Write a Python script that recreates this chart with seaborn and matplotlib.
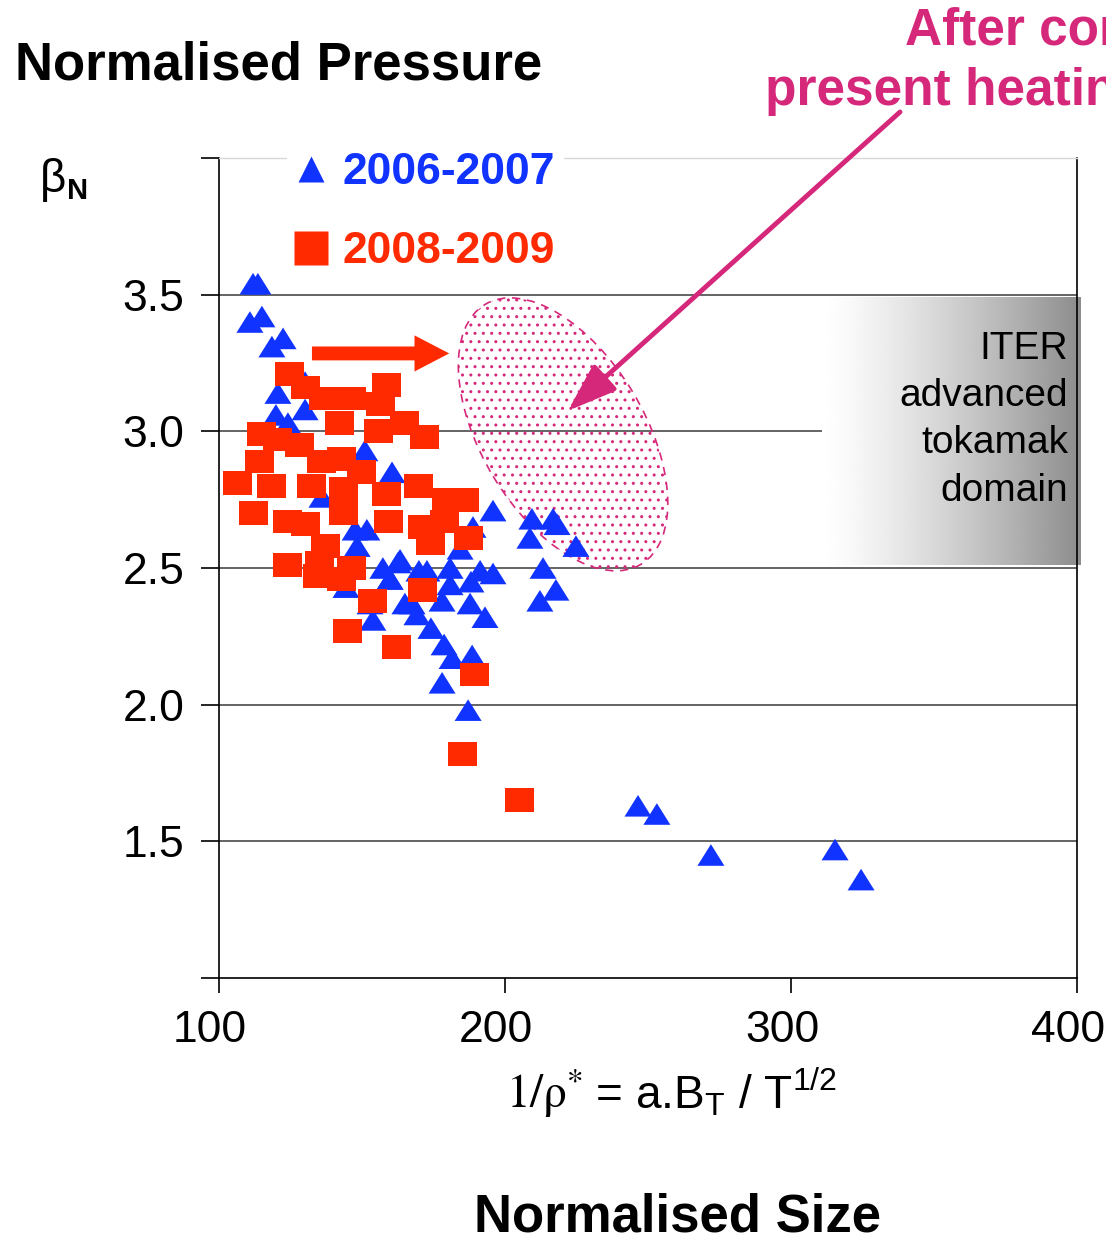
import numpy as np
import pandas as pd
import matplotlib
matplotlib.use("Agg")
import matplotlib.pyplot as plt
import matplotlib.transforms as mtransforms
from matplotlib.patches import Ellipse
from matplotlib.lines import Line2D
import seaborn as sns

sns.set_style("ticks")
plt.rcParams['font.family'] = ['Liberation Sans', 'DejaVu Sans']
plt.rcParams['mathtext.fontset'] = 'custom'
plt.rcParams['mathtext.rm'] = 'Liberation Sans'
plt.rcParams['mathtext.it'] = 'Liberation Sans:italic'
plt.rcParams['mathtext.bf'] = 'Liberation Sans:bold'
for k in ['text.color', 'axes.labelcolor', 'xtick.color', 'ytick.color',
          'xtick.labelcolor', 'ytick.labelcolor']:
    plt.rcParams[k] = 'black'

# ---------------- data ----------------
periods = ['2006-2007', '2008-2009']

x_0607 = [111.9, 113.6, 110.8, 115.0, 118.5, 122.4, 120.6, 130.1, 130.1, 119.9,
          124.1, 151.0, 160.5, 136.0, 147.6, 148.3, 151.7, 157.3, 163.3, 144.4,
          159.8, 152.8, 153.8, 165.0, 195.8, 209.4, 216.8, 218.2, 208.7, 224.8,
          188.8, 184.3, 213.3, 217.8, 212.2, 162.6, 169.9, 172.7, 180.8, 188.1,
          195.8, 191.3, 159.8, 180.8, 178.0, 187.8, 167.5, 169.2, 193.0, 174.1,
          178.7, 181.5, 188.5, 178.0, 187.1, 246.5, 253.1, 272.0, 315.4, 324.5]
y_0607 = [3.54, 3.54, 3.40, 3.42, 3.31, 3.34, 3.14, 3.18, 3.08, 3.06,
          3.03, 2.93, 2.85, 2.76, 2.64, 2.58, 2.64, 2.50, 2.53, 2.43,
          2.46, 2.37, 2.31, 2.37, 2.71, 2.68, 2.68, 2.66, 2.61, 2.58,
          2.65, 2.57, 2.50, 2.42, 2.38, 2.52, 2.49, 2.49, 2.50, 2.45,
          2.48, 2.49, 2.46, 2.44, 2.38, 2.37, 2.37, 2.33, 2.32, 2.28,
          2.22, 2.17, 2.18, 2.08, 1.98, 1.63, 1.60, 1.45, 1.47, 1.36]

x_0809 = [124.8, 130.1, 136.7, 146.5, 158.4, 156.3, 142.0, 155.6, 164.7, 171.7,
          115.0, 120.3, 114.0, 106.6, 118.5, 128.3, 143.0, 149.7, 132.5, 143.7,
          158.7, 169.9, 179.4, 185.7, 112.2, 123.8, 130.4, 137.4, 143.7, 159.4,
          173.8, 171.0, 178.7, 187.1, 123.8, 134.3, 135.0, 143.0, 146.5, 153.8,
          171.0, 144.8, 161.9, 189.2, 185.3, 205.2, 136.0]
y_0809 = [3.21, 3.16, 3.12, 3.12, 3.17, 3.10, 3.03, 3.00, 3.03, 2.98,
          2.99, 2.97, 2.89, 2.81, 2.80, 2.95, 2.90, 2.85, 2.80, 2.79,
          2.77, 2.80, 2.75, 2.75, 2.70, 2.67, 2.66, 2.58, 2.70, 2.67,
          2.59, 2.65, 2.67, 2.61, 2.51, 2.47, 2.52, 2.46, 2.50, 2.38,
          2.42, 2.27, 2.21, 2.11, 1.82, 1.65, 2.89]

x_ticks = [100, 200, 300, 400]
y_ticks = [1.0, 1.5, 2.0, 2.5, 3.0, 3.5, 4.0]
y_ticklabels = ['', '1.5', '2.0', '2.5', '3.0', '3.5', '']
grid_levels = [1.5, 2.0, 2.5, 3.0, 3.5]

BLUE = '#1133FF'
RED = '#FF2A00'
PINK = '#D6287A'

# ---------------- figure ----------------
W, H = 1106, 1242
fig = plt.figure(figsize=(W / 100, H / 100), dpi=100)
AX_L, AX_R, AX_T, AX_B = 219, 1077, 158, 978
ax = fig.add_axes([AX_L / W, 1 - AX_B / H, (AX_R - AX_L) / W, (AX_B - AX_T) / H])

def fpx(x, y):
    return x / W, 1 - y / H

df = pd.DataFrame({
    'x': x_0607 + x_0809,
    'y': y_0607 + y_0809,
    'period': [periods[0]] * len(x_0607) + [periods[1]] * len(x_0809),
})

tri = [(0.0, 0.4), (-0.5, -0.4), (0.5, -0.4)]
rect = [(-0.5, -0.41), (0.5, -0.41), (0.5, 0.41), (-0.5, 0.41)]

sns.scatterplot(data=df, x='x', y='y', hue='period', style='period', size='period',
                hue_order=periods, style_order=periods, size_order=periods,
                palette={periods[0]: BLUE, periods[1]: RED},
                markers={periods[0]: tri, periods[1]: rect},
                sizes={periods[0]: 378, periods[1]: 436},
                linewidth=0, edgecolor='none', legend=False, ax=ax, zorder=3)

# horizontal reference lines
for lv in grid_levels:
    ax.axhline(lv, color='#3a3a3a', lw=1.1, zorder=1)

# ITER domain gradient box
grad = np.linspace(0, 1, 400)
img = 1 - 0.45 * grad ** 1.3
ax.imshow(img[None, :], cmap='gray', vmin=0, vmax=1, extent=(311, 401.5, 2.51, 3.49),
          aspect='auto', zorder=2, clip_on=False, interpolation='bilinear')
ax.text(397, 3.042, "ITER\nadvanced\ntokamak\ndomain", ha='right', va='center',
        fontsize=28, linespacing=1.4, multialignment='right', zorder=4, color='black')

# target ellipse (pixel-sized, centred in data coords)
etrans = (mtransforms.Affine2D().scale(1 / fig.dpi) + fig.dpi_scale_trans +
          mtransforms.ScaledTranslation(220.3, 2.989, ax.transData))
ell = Ellipse((0, 0), width=303, height=163, angle=-59, transform=etrans,
              facecolor='none', edgecolor=PINK, hatch='..', lw=1.2,
              linestyle=(0, (5, 4)), zorder=2.5)
ax.add_patch(ell)

# red block arrow
ax.annotate('', xy=(180.5, 3.285), xytext=(132.5, 3.285),
            arrowprops=dict(arrowstyle='simple,head_length=1.25,head_width=1.3,tail_width=0.5',
                            mutation_scale=20, color=RED, lw=0, shrinkA=0, shrinkB=0),
            zorder=4)

# pink arrow
ax.annotate('', xy=(222, 3.075), xycoords='data',
            xytext=(900, H - 112), textcoords='figure pixels',
            arrowprops=dict(arrowstyle='-|>,head_length=1.0,head_width=0.35',
                            lw=3.5, color=PINK, mutation_scale=30, shrinkA=0, shrinkB=0),
            annotation_clip=False, zorder=6)

# axes styling
ax.set_xlim(100, 400)
ax.set_ylim(1.0, 4.0)
ax.set_xticks(x_ticks)
ax.set_xticklabels([str(t) for t in x_ticks])
ax.set_yticks(y_ticks)
ax.set_yticklabels(y_ticklabels)
ax.set_xlabel('')
ax.set_ylabel('')
ax.tick_params(axis='x', direction='out', length=11, width=1.2, labelsize=32, pad=12,
               colors='black')
ax.tick_params(axis='y', direction='out', length=13, width=1.2, labelsize=32, pad=12,
               colors='black')
shift = mtransforms.ScaledTranslation(-9 / 100, 0, fig.dpi_scale_trans)
for lab in ax.get_xticklabels():
    lab.set_transform(lab.get_transform() + shift)
for s in ['left', 'bottom', 'right']:
    ax.spines[s].set_color('black')
    ax.spines[s].set_linewidth(1.2)
ax.spines['top'].set_color('#d8d8d8')
ax.spines['top'].set_linewidth(1.0)
ax.spines['right'].set_visible(True)
ax.spines['top'].set_visible(True)

# legend
handles = [Line2D([], [], ls='none', marker='^', ms=19, color=BLUE, mec='none'),
           Line2D([], [], ls='none', marker='s', ms=25, color=RED, mec='none')]
leg = ax.legend(handles, periods, loc='upper left', bbox_to_anchor=(0.079, 1.018),
                frameon=True, facecolor='white', edgecolor='none', framealpha=1,
                fancybox=False, prop={'size': 32, 'weight': 'bold'},
                labelcolor=[BLUE, RED], handlelength=0.7, handletextpad=0.35,
                labelspacing=0.86, borderpad=0.2, borderaxespad=0)
leg.set_zorder(5)

# texts
fig.text(*fpx(15, 80), 'Normalised Pressure', fontsize=38, fontweight='bold',
         ha='left', va='baseline')
fig.text(*fpx(40, 192), 'β', fontsize=33, ha='left', va='baseline')
fig.text(*fpx(67, 199), 'N', fontsize=21, fontweight='bold', ha='left', va='baseline')
fig.text(*fpx(905, 45), 'After completion of', fontsize=37, fontweight='bold',
         color=PINK, ha='left', va='baseline')
fig.text(*fpx(765, 105), 'present heating upgrades', fontsize=37, fontweight='bold',
         color=PINK, ha='left', va='baseline')

t1 = fig.text(*fpx(506, 1108), r'$\mathrm{1/\rho}^{*}$', fontsize=34, math_fontfamily='stix',
              ha='left', va='baseline')
ax.annotate(r' = a.B$_{\mathrm{T}}$ / T$^{1/2}$', xy=(1, 1 - 1108 / H),
            xycoords=(t1, 'figure fraction'), ha='left', va='baseline',
            fontsize=33, annotation_clip=False)
fig.text(*fpx(678, 1232), 'Normalised Size', fontsize=38, fontweight='bold',
         ha='center', va='baseline')

fig.savefig('out.png', dpi=100)
